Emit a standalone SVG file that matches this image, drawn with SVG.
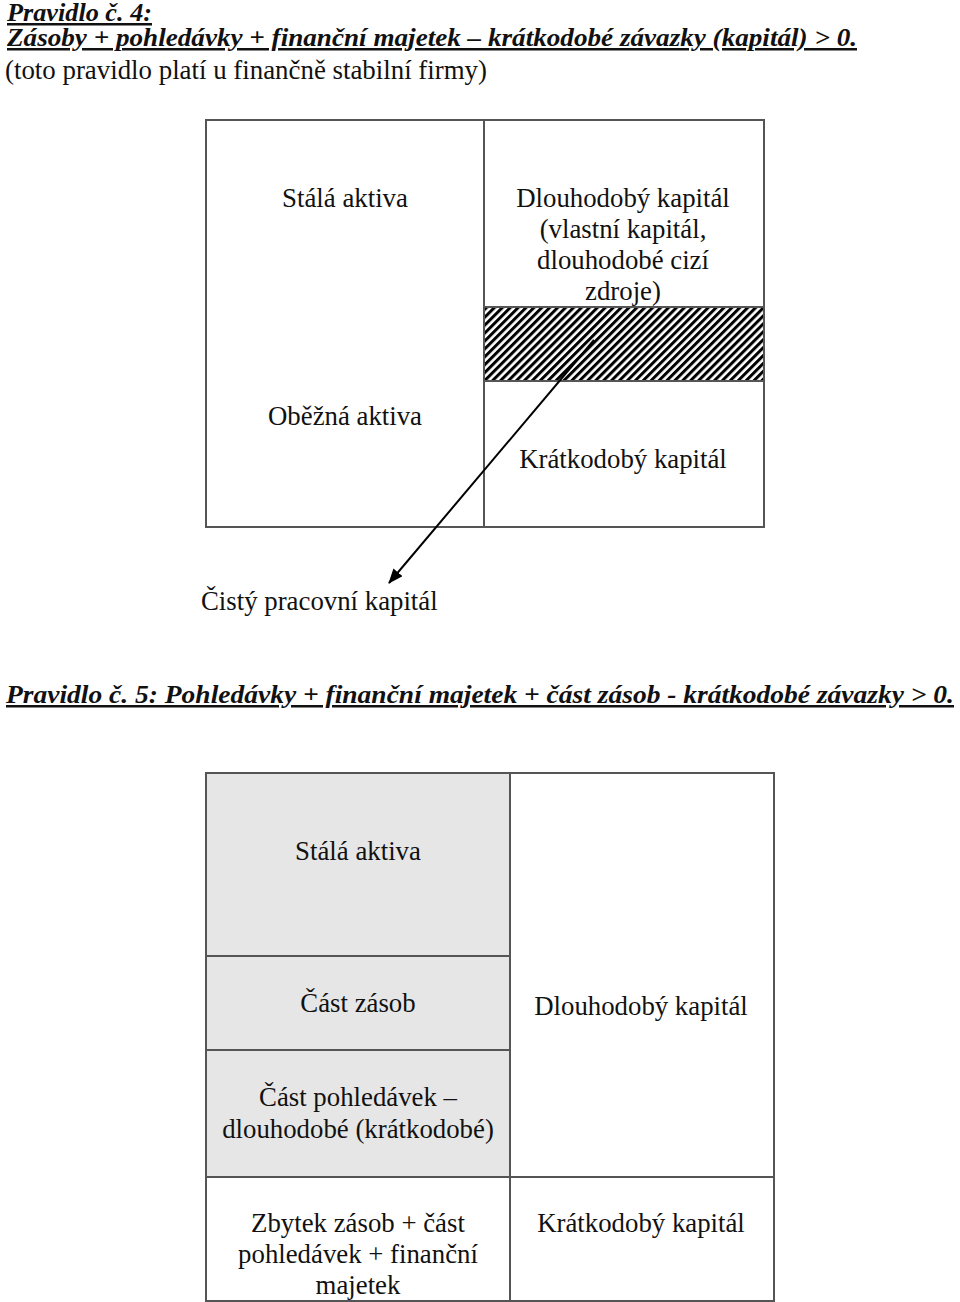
<svg xmlns="http://www.w3.org/2000/svg" width="960" height="1302" viewBox="0 0 960 1302">
<style>
text{font-family:"Liberation Serif","Times New Roman",serif;font-size:26.8px;fill:#111}
.t{font-weight:bold;font-style:italic;text-decoration:underline;font-size:25px}
.c{text-anchor:middle}
.box{fill:none;stroke:#555;stroke-width:2}
.ln{stroke:#555;stroke-width:2}
</style>
<defs>
<pattern id="hatch" width="5.6" height="5.6" patternUnits="userSpaceOnUse" patternTransform="rotate(45)">
<rect x="0" y="0" width="5.6" height="5.6" fill="#fff"/>
<rect x="0" y="0" width="3" height="5.6" fill="#000"/>
</pattern>
<marker id="ah" markerWidth="15" markerHeight="12" refX="14" refY="6" orient="auto" markerUnits="userSpaceOnUse">
<path d="M0,0 L15,6 L0,12 Z" fill="#000"/>
</marker>
</defs>
<g id="title1">
<text class="t" x="7" y="21" textLength="145" lengthAdjust="spacingAndGlyphs">Pravidlo č. 4:</text>
<text class="t" x="7" y="46" textLength="850" lengthAdjust="spacingAndGlyphs">Zásoby + pohledávky + finanční majetek – krátkodobé závazky (kapitál)  &gt; 0.</text>
<text x="5" y="79" textLength="482" lengthAdjust="spacingAndGlyphs">(toto pravidlo platí u finančně stabilní firmy)</text>
</g>
<g id="table1">
<rect class="box" x="206" y="120" width="558" height="407"/>
<line class="ln" x1="484" y1="120" x2="484" y2="527"/>
<rect x="484" y="307" width="280" height="74" fill="url(#hatch)" stroke="#555" stroke-width="2"/>
<g id="t1-stala"><text class="c" x="345" y="207">Stálá aktiva</text></g>
<g id="t1-dlouho"><text class="c" x="623" y="207">Dlouhodobý kapitál</text>
<text class="c" x="623" y="238">(vlastní kapitál,</text>
<text class="c" x="623" y="269">dlouhodobé cizí</text>
<text class="c" x="623" y="300">zdroje)</text></g>
<g id="t1-obezna"><text class="c" x="345" y="425">Oběžná aktiva</text></g>
<g id="t1-kratko"><text class="c" x="623" y="468">Krátkodobý kapitál</text></g>
</g>
<g id="connectors">
<line x1="594" y1="340" x2="389" y2="583" stroke="#000" stroke-width="2" marker-end="url(#ah)"/>
</g>
<g id="cpk"><text x="201" y="610">Čistý pracovní kapitál</text></g>
<g id="title2">
<text class="t" x="6" y="703" textLength="948" lengthAdjust="spacingAndGlyphs">Pravidlo č. 5:  Pohledávky + finanční majetek + část zásob  -  krátkodobé závazky &gt; 0.</text>
</g>
<g id="table2">
<rect x="206" y="773" width="304" height="404" fill="#e6e6e6"/>
<rect class="box" x="206" y="773" width="568" height="528"/>
<line class="ln" x1="510" y1="773" x2="510" y2="1301"/>
<line class="ln" x1="206" y1="956" x2="510" y2="956"/>
<line class="ln" x1="206" y1="1050" x2="510" y2="1050"/>
<line class="ln" x1="206" y1="1177" x2="774" y2="1177"/>
<g id="t2-stala"><text class="c" x="358" y="860">Stálá aktiva</text></g>
<g id="t2-zasob"><text class="c" x="358" y="1012">Část zásob</text></g>
<g id="t2-pohled"><text class="c" x="358" y="1106">Část pohledávek –</text>
<text class="c" x="358" y="1138">dlouhodobé (krátkodobé)</text></g>
<g id="t2-zbytek"><text class="c" x="358" y="1232">Zbytek zásob + část</text>
<text class="c" x="358" y="1263">pohledávek + finanční</text>
<text class="c" x="358" y="1294">majetek</text></g>
<g id="t2-dlouho"><text class="c" x="641" y="1015">Dlouhodobý kapitál</text></g>
<g id="t2-kratko"><text class="c" x="641" y="1232">Krátkodobý kapitál</text></g>
</g>
</svg>
